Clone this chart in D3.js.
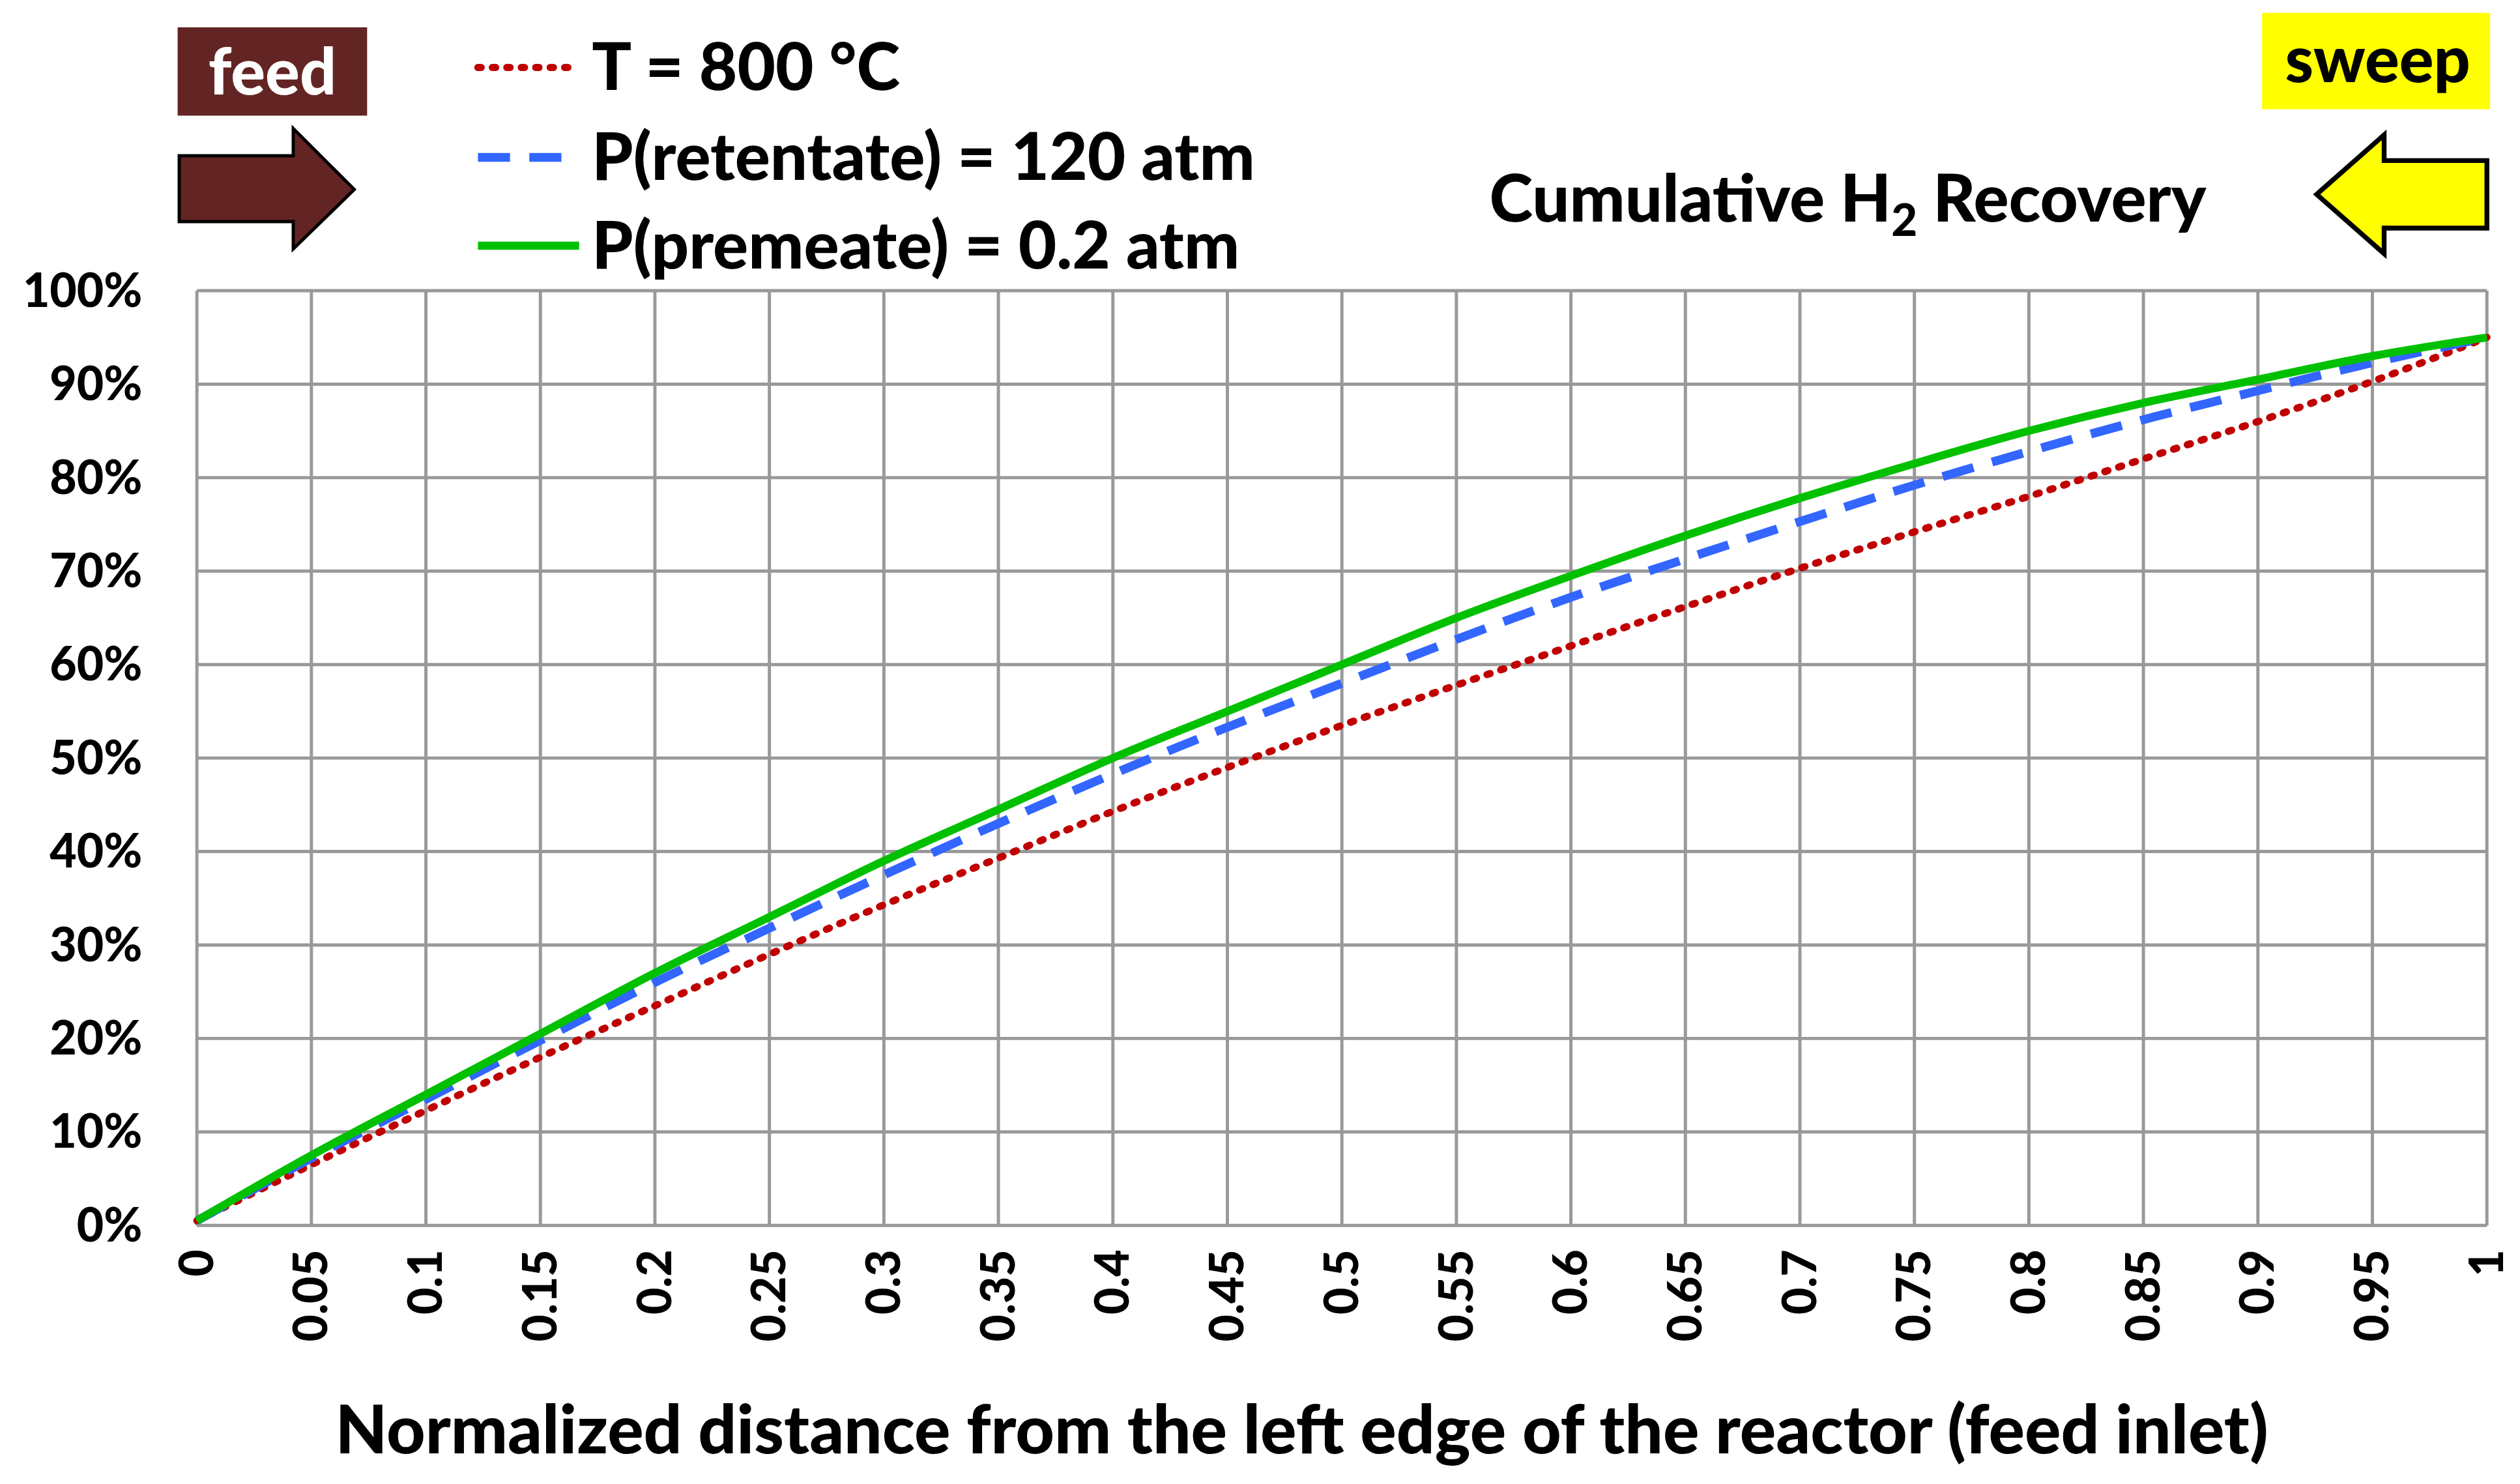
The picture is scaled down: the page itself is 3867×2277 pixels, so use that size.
<!DOCTYPE html>
<html><head><meta charset="utf-8">
<script src="https://cdn.jsdelivr.net/npm/d3@7"></script>
<style>body{margin:0;background:#fff}text{font-family:Lato,"Noto Sans",sans-serif;font-weight:900}</style>
</head><body><svg id="c"></svg>
<script>
"use strict";
var xs = [0,0.05,0.1,0.15,0.2,0.25,0.3,0.35,0.4,0.45,0.5,0.55,0.6,0.65,0.7,0.75,0.8,0.85,0.9,0.95,1];
var tempVals = [0.5,6.5,12.3,18,23.5,29,34.3,39.3,44.3,49,53.5,57.8,62,66.2,70.3,74.2,78,82,86,90.3,95];
var retVals = [0.5,7.2,13.5,19.8,26,31.8,37.5,43,48.3,53.3,58,62.7,67.2,71.3,75.3,79.2,82.8,86.2,89.3,92.3,95];
var permVals = [0.5,7.5,14,20.5,27,33,39,44.5,50,55,60,65,69.5,73.8,77.8,81.5,85,88,90.5,93,95];
var xTicks = ["0","0.05","0.1","0.15","0.2","0.25","0.3","0.35","0.4","0.45","0.5","0.55","0.6","0.65","0.7","0.75","0.8","0.85","0.9","0.95","1"];
var yTicks = [0,10,20,30,40,50,60,70,80,90,100];
var seriesNames = ["T = 800 °C","P(retentate) = 120 atm","P(premeate) = 0.2 atm"];

var svg = d3.select('#c').attr("width",3867).attr("height",2277).attr("viewBox","0 0 1568 924");
var x = d3.scaleLinear().domain([0,1]).range([122,1548]);
var y = d3.scaleLinear().domain([0,100]).range([763,181]);

// grid
svg.append("g").selectAll("line").data(xTicks).enter().append("line")
  .attr("x1", d => x(+d)).attr("x2", d => x(+d)).attr("y1",181).attr("y2",763)
  .attr("stroke","#999").attr("stroke-width",2);
svg.append("g").selectAll("line").data(yTicks).enter().append("line")
  .attr("x1",122).attr("x2",1548).attr("y1", d => y(d)).attr("y2", d => y(d))
  .attr("stroke","#999").attr("stroke-width",2);

// axis labels
svg.append("g").selectAll("text").data(yTicks).enter().append("text")
  .attr("x",88).attr("y", d => y(d)+10).attr("text-anchor","end").attr("font-size",29)
  .text(d => d+"%");
svg.append("g").selectAll("text").data(xTicks).enter().append("text")
  .attr("transform", d => "translate("+(x(+d)+10)+",778) rotate(-90)")
  .attr("text-anchor","end").attr("font-size",29).text(d => d);
svg.append("text").attr("x",810).attr("y",905).attr("text-anchor","middle").attr("font-size",42)
  .text("Normalized distance from the left edge of the reactor (feed inlet)");

// curves
var line = d3.line().x((d,i) => x(xs[i])).y(d => y(d)).curve(d3.curveMonotoneX);
var styles = [
  {data: tempVals, color:"#c00000", dash:"2,7", w:4.5, cap:"round"},
  {data: retVals, color:"#3366ff", dash:"20,12", w:5.5, cap:"butt"},
  {data: permVals, color:"#00c000", dash:null, w:5, cap:"butt"}
];
styles.forEach(s => {
  svg.append("path").attr("d", line(s.data)).attr("fill","none").attr("stroke",s.color)
    .attr("stroke-width",s.w).attr("stroke-dasharray",s.dash).attr("stroke-linecap",s.cap);
});

// legend
var ly = [42,98,153];
styles.forEach((s,i) => {
  svg.append("line").attr("x1",297).attr("x2",360).attr("y1",ly[i]).attr("y2",ly[i])
    .attr("stroke",s.color).attr("stroke-width",s.w).attr("stroke-dasharray",s.dash).attr("stroke-linecap",s.cap);
  svg.append("text").attr("x",368).attr("y",ly[i]+14).attr("font-size",41).text(seriesNames[i]);
});

// feed box + arrow
svg.append("rect").attr("x",110).attr("y",17).attr("width",118).attr("height",55).attr("fill","#632523");
svg.append("text").attr("x",169).attr("y",59).attr("text-anchor","middle").attr("font-size",40).attr("fill","#fff").text("feed");
svg.append("path").attr("d","M111,97 L182,97 L182,80 L220,118 L182,155 L182,138 L111,138 Z")
  .attr("fill","#632523").attr("stroke","#000").attr("stroke-width",2);

// sweep box + arrow
svg.append("rect").attr("x",1408).attr("y",8).attr("width",142).attr("height",60).attr("fill","#ffff00");
svg.append("text").attr("x",1480).attr("y",51).attr("text-anchor","middle").attr("font-size",40).text("sweep");
svg.append("path").attr("d","M1548,100 L1484,100 L1484,84 L1442,121 L1484,158 L1484,142 L1548,142 Z")
  .attr("fill","#ffff00").attr("stroke","#000").attr("stroke-width",3);

var t = svg.append("text").attr("x",1150).attr("y",138).attr("text-anchor","middle").attr("font-size",41);
t.append("tspan").text("Cumulative H");
t.append("tspan").attr("font-size",28).attr("dy",9).text("2");
t.append("tspan").attr("dy",-9).text(" Recovery");
</script></body></html>
